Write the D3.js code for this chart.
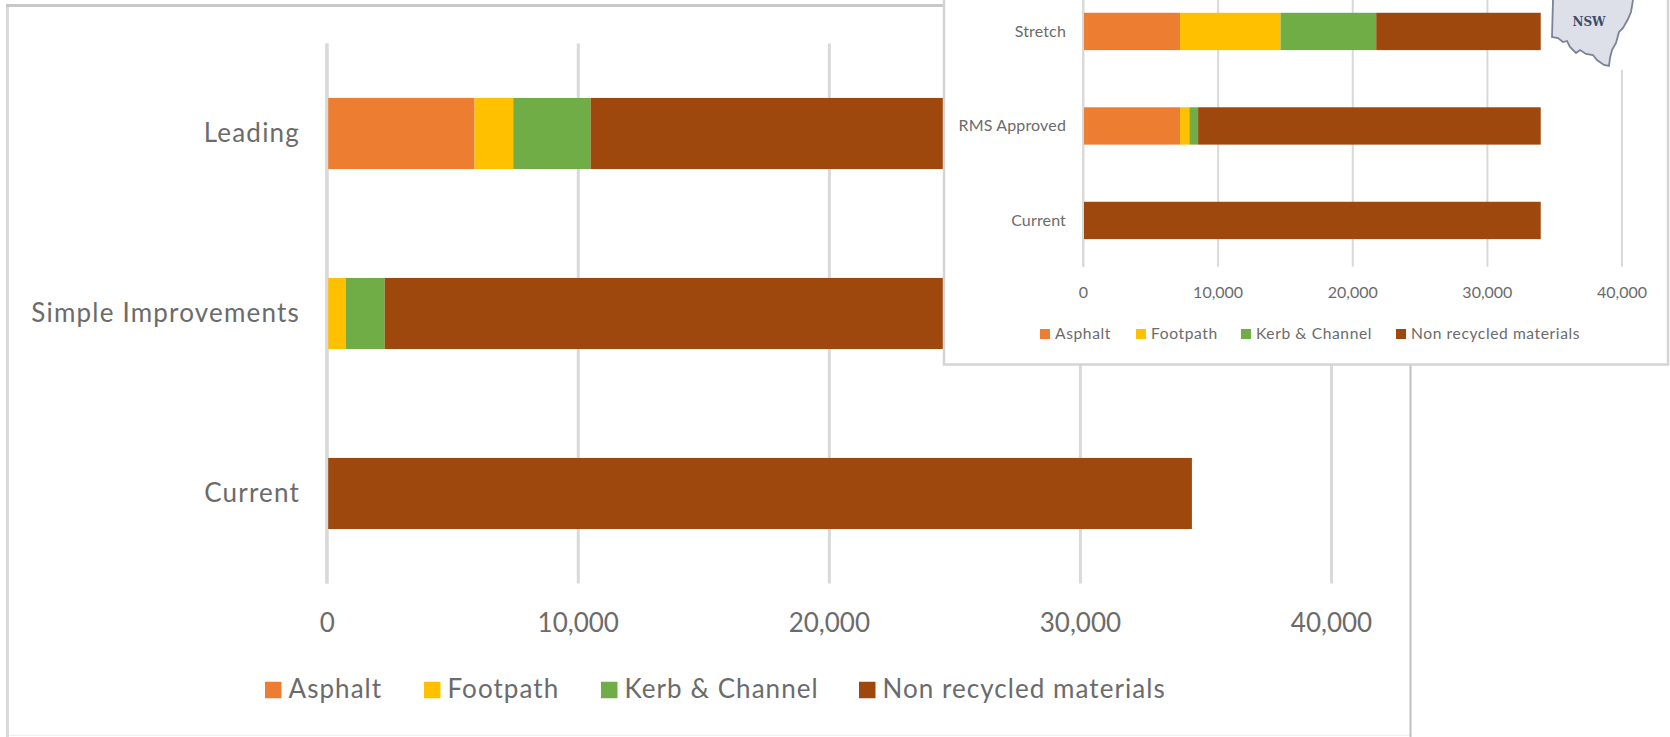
<!DOCTYPE html>
<html>
<head>
<meta charset="utf-8">
<script src="https://cdn.jsdelivr.net/npm/d3@7"></script>
<style>
    html, body { margin: 0; padding: 0; background: #fff; overflow: hidden; }
    text { font-family: Lato, Carlito, "Open Sans", sans-serif; fill: #6b6b6b; }
</style>
</head>
<body>
<div id="chart"></div>
<script>
// main chart, bottom row first
const mainCategories = ['Current', 'Simple Improvements', 'Leading']
const mainAsphalt = [0, 0, 5890]
const mainFootpath = [0, 760, 1540]
const mainKerb = [0, 1550, 3080]
const mainNonRecycled = [34460, 32150, 23950]

// inset chart
const insetCategories = ['Current', 'RMS Approved', 'Stretch']
const insetAsphalt = [0, 7210, 7210]
const insetFootpath = [0, 690, 7460]
const insetKerb = [0, 650, 7110]
const insetNonRecycled = [34000, 25450, 12220]

const seriesNames = ['Asphalt', 'Footpath', 'Kerb & Channel', 'Non recycled materials']
const seriesColors = ['#ed7d31', '#ffc000', '#70ad47', '#9e480e']
const axisTicks = [0, 10000, 20000, 30000, 40000]

const svg = d3.select('#chart')
    .append('svg')
    .attr('width', 1670)
    .attr('height', 737)
    .style('display', 'block')

function rowsOf(categories, values) {
    return categories.map((category, i) => {
        const row = { category }
        seriesNames.forEach((name, s) => { row[name] = values[s][i] })
        return row
    })
}

function drawBars(ctr, categories, values, o) {
    const x = d3.scaleLinear().domain([0, 40000]).range(o.xRange)
    const y = d3.scaleBand().domain(categories).range(o.yRange)
        .paddingInner(o.pad).paddingOuter(o.pad / 2)

    // gridlines come from the axis ticks
    const axis = ctr.append('g')
        .attr('transform', `translate(0, ${o.axisY})`)
        .call(d3.axisBottom(x)
            .tickValues(axisTicks)
            .tickFormat(d3.format(','))
            .tickSize(-(o.axisY - o.yRange[1]))
            .tickPadding(o.tickPad))
    axis.select('.domain').remove()
    axis.selectAll('line')
        .attr('stroke', '#d9d9d9')
        .attr('stroke-width', o.gridWidth)
    axis.selectAll('text')
        .style('font-size', o.tickFont + 'px')
        .style('font-family', null)

    const stack = d3.stack().keys(seriesNames)(rowsOf(categories, values))
    ctr.append('g').selectAll('g')
        .data(stack)
        .join('g')
        .attr('fill', (d, i) => seriesColors[i])
        .selectAll('rect')
        .data(d => d)
        .join('rect')
        .attr('x', d => x(d[0]))
        .attr('width', d => x(d[1]) - x(d[0]))
        .attr('y', d => y(d.data.category))
        .attr('height', y.bandwidth())

    // zero line sits on top of the bars' left edge
    ctr.append('line')
        .attr('x1', x(0)).attr('x2', x(0))
        .attr('y1', o.axisY).attr('y2', o.yRange[1])
        .attr('stroke', '#d9d9d9')
        .attr('stroke-width', o.gridWidth)

    ctr.append('g').selectAll('text')
        .data(categories)
        .join('text')
        .attr('x', o.labelX)
        .attr('y', d => y(d) + y.bandwidth() / 2)
        .attr('dy', '0.32em')
        .attr('text-anchor', 'end')
        .style('font-size', o.catFont + 'px')
        .style('letter-spacing', o.catSpacing + 'px')
        .text(d => d)

    const legend = ctr.append('g').selectAll('g')
        .data(seriesNames)
        .join('g')
        .attr('transform', (d, i) => `translate(${o.legendX[i]}, ${o.legendY})`)
    legend.append('rect')
        .attr('y', -o.swatch / 2)
        .attr('width', o.swatch)
        .attr('height', o.swatch)
        .attr('fill', (d, i) => seriesColors[i])
    legend.append('text')
        .attr('x', o.swatch + o.swatchGap)
        .attr('dy', '0.32em')
        .style('font-size', o.legendFont + 'px')
        .style('letter-spacing', o.legendSpacing + 'px')
        .text(d => d)
}

// main panel frame
const frame = svg.append('g').attr('fill', 'none')
frame.append('line').attr('x1', 7.5).attr('x2', 7.5).attr('y1', 4).attr('y2', 737)
    .attr('stroke', '#d9d9d9').attr('stroke-width', 3)
frame.append('line').attr('x1', 6).attr('x2', 1411).attr('y1', 5.5).attr('y2', 5.5)
    .attr('stroke', '#c8c8c8').attr('stroke-width', 3)
frame.append('line').attr('x1', 1410.5).attr('x2', 1410.5).attr('y1', 4).attr('y2', 737)
    .attr('stroke', '#c0c0c0').attr('stroke-width', 2)
frame.append('line').attr('x1', 9).attr('x2', 1409).attr('y1', 735.5).attr('y2', 735.5)
    .attr('stroke', '#efefef').attr('stroke-width', 1)

drawBars(svg.append('g'), mainCategories,
    [mainAsphalt, mainFootpath, mainKerb, mainNonRecycled], {
        xRange: [326.7, 1331],
        yRange: [583.5, 43.5],
        axisY: 583.5,
        pad: 0.605,
        gridWidth: 3,
        tickFont: 26,
        tickPad: 30,
        catFont: 26,
        catSpacing: 1.2,
        labelX: 300,
        legendX: [265, 424, 601, 859],
        legendY: 690,
        swatch: 16.5,
        swatchGap: 7,
        legendFont: 26,
        legendSpacing: 1.05
    })

// inset panel pasted over the top right corner
svg.append('rect')
    .attr('x', 944).attr('y', -5)
    .attr('width', 724).attr('height', 369.5)
    .attr('fill', '#fff')
    .attr('stroke', '#d4d4d4')
    .attr('stroke-width', 2.5)

drawBars(svg.append('g'), insetCategories,
    [insetAsphalt, insetFootpath, insetKerb, insetNonRecycled], {
        xRange: [1083, 1621.5],
        yRange: [267.7, -15.8],
        axisY: 266.7,
        pad: 0.605,
        gridWidth: 2,
        tickFont: 16,
        tickPad: 20,
        catFont: 16,
        catSpacing: 0.15,
        labelX: 1066,
        legendX: [1040, 1136, 1241, 1396],
        legendY: 334,
        swatch: 10,
        swatchGap: 5,
        legendFont: 15.6,
        legendSpacing: 0.6
    })

// NSW map thumbnail
const nsw = svg.append('g')
nsw.append('rect')
    .attr('x', 1546).attr('y', 0)
    .attr('width', 92).attr('height', 70)
    .attr('fill', '#fff')
nsw.append('path')
    .attr('d', 'M1553,0 L1552,37 L1558,38 L1563,42 L1567,41 L1570,47 L1576,53 L1580,50 L1586,54 L1593,55 L1597,60 L1604,65 L1609,66 L1610,58 L1612,50 L1616,43 L1619,32 L1623,28 L1628,19 L1631,12 L1633,0')
    .attr('fill', '#dde0e9')
    .attr('stroke', '#7b8494')
    .attr('stroke-width', 1.8)
nsw.append('text')
    .attr('x', 1589).attr('y', 26)
    .attr('text-anchor', 'middle')
    .style('font-family', '"DejaVu Serif", serif')
    .style('font-size', '12px')
    .style('font-weight', 'bold')
    .style('fill', '#3f4b66')
    .text('NSW')
</script>
</body>
</html>
